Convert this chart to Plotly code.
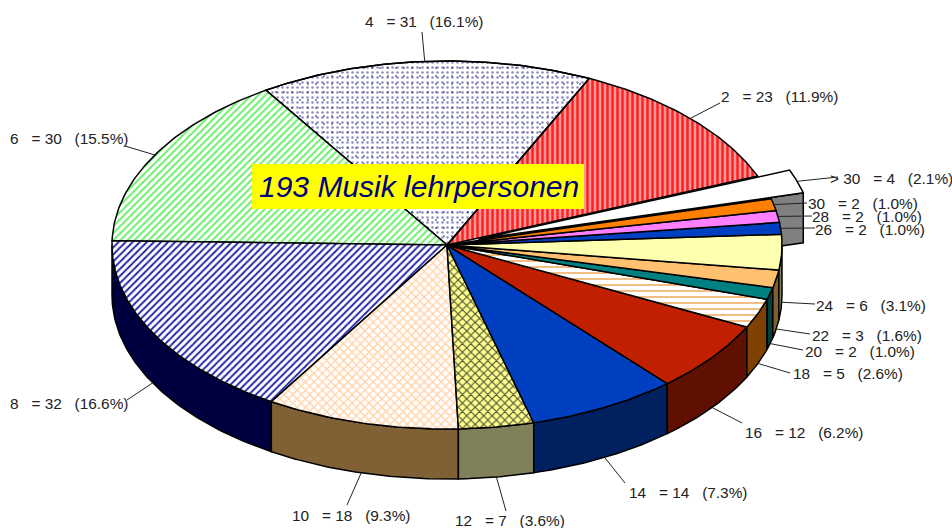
import math
import plotly.graph_objects as go

categories = ["2", "4", "6", "8", "10", "12", "14", "16", "18", "20", "22", "24", "26", "28", "30", "> 30"]
values = [23, 31, 30, 32, 18, 7, 14, 12, 5, 2, 3, 6, 2, 2, 2, 4]
title_text = "193 Musik lehrpersonen"

top_colors = ["#ff2020", "#8c8cc4", "#68f068", "#2828a8", "#ffd4a8", "#505030", "#0040c0", "#c02000",
              "#e88010", "#008080", "#ffc070", "#ffffb0", "#0040c0", "#ff80ff", "#ff8000", "#ffffff"]
top_bg = ["#ff9898", "#ffffff", "#ffffff", "#ffffff", "#ffffff", "#ffff90", None, None,
          "#ffffff", None, None, None, None, None, None, None]
top_shape = ["|", ".", "/", "/", "x", "x", "", "", "-", "", "", "", "", "", "", ""]
top_size = [5, 5, 5, 5, 6, 6, 0, 0, 6, 0, 0, 0, 0, 0, 0, 0]
top_solid = [0.5, 0.2, 0.4, 0.4, 0.4, 0.35, 0, 0, 0.17, 0, 0, 0, 0, 0, 0, 0]
side_colors = ["#800000", "#808080", "#208020", "#000040", "#806035", "#80805a", "#002060", "#601000",
               "#804000", "#004040", "#806030", "#808058", "#002060", "#804080", "#804000", "#808080"]

CX, CY, RX, RY, DEPTH = 447, 245, 335, 184, 50
START = 22.0
EXPLODE_IDX = 15
OFF = (32, -6)

# label anchor: left x, middle y
label_pos = [(719, 96), (363, 21), (8, 138), (8, 403), (290, 515), (453, 520), (627, 492), (743, 432),
             (791, 373), (803, 351), (810, 335), (814, 305), (813, 229), (810, 216), (806, 203), (828, 178)]
line_end = [(720, 103), (422, 32), (125, 146), (127, 400), (347, 505), (506, 511), (625, 483), (742, 423),
            (790, 373), (803, 350), (810, 334), (815, 304), (815, 228), (812, 216), (807, 203), (838, 177)]

total = sum(values)
ang = []
a = START
for v in values:
    ang.append((a, a + v / total * 360))
    a += v / total * 360

def pt(deg, ox=0, oy=0, dz=0):
    r = math.radians(deg)
    return CX + ox + RX * math.cos(r), CY + oy - RY * math.sin(r) + dz

def arc(a0, a1, **kw):
    n = max(2, int(abs(a1 - a0) * 1.5) + 2)
    return [pt(a0 + (a1 - a0) * i / (n - 1), **kw) for i in range(n)]

fig = go.Figure()
LINE = dict(color="#000000", width=1.5)

def poly(points, color, shape="", bg=None, size=0, sol=0, line=LINE):
    pts = list(points) + [points[0]]
    kw = {}
    if shape:
        kw["fillpattern"] = dict(shape=shape, fgcolor=color, bgcolor=bg, size=size, solidity=sol, fillmode="replace")
    fig.add_trace(go.Scatter(x=[p[0] for p in pts], y=[p[1] for p in pts], mode="lines", fill="toself",
                             fillcolor=(bg or color), line=line, hoverinfo="skip", showlegend=False, **kw))

# radial cut face of the exploded wedge
lo, hi = ang[EXPLODE_IDX]
p0 = (CX + OFF[0], CY + OFF[1])
p1 = pt(lo, OFF[0], OFF[1])
poly([p0, p1, (p1[0], p1[1] + DEPTH), (p0[0], p0[1] + DEPTH)], side_colors[EXPLODE_IDX])

# rims on the lower half
for i, (a0, a1) in enumerate(ang):
    for base in (180, 540):
        s0, s1 = max(a0, base), min(a1, base + 180)
        if s1 > s0:
            poly(arc(s0, s1) + arc(s1, s0, dz=DEPTH), side_colors[i])

# top faces
for i, (a0, a1) in enumerate(ang):
    if i == EXPLODE_IDX:
        continue
    poly([(CX, CY)] + arc(a0, a1), top_colors[i], top_shape[i], top_bg[i], top_size[i], top_solid[i])
    if i == 1:  # second, sparse layer of black dots on the slice "4"
        poly([(CX, CY)] + arc(a0, a1), "#000040", ".", "rgba(0,0,0,0)", 8, 0.03)
poly([p0] + arc(lo, hi, ox=OFF[0], oy=OFF[1]), top_colors[EXPLODE_IDX])

# connectors
for i, (a0, a1) in enumerate(ang):
    mid = (a0 + a1) / 2
    s = math.sin(math.radians(mid))
    if i == EXPLODE_IDX:
        start = pt(mid, OFF[0], OFF[1])
    else:
        start = pt(mid, dz=DEPTH if s < 0 else 0)
    e = line_end[i]
    fig.add_trace(go.Scatter(x=[start[0], e[0]], y=[start[1], e[1]], mode="lines",
                             line=dict(color="#222222", width=1), hoverinfo="skip", showlegend=False))

# labels
anns = []
for i, c in enumerate(categories):
    txt = f"{c}   = {values[i]}   ({values[i] / total * 100:.1f}%)"
    anns.append(dict(x=label_pos[i][0], y=label_pos[i][1], text=txt, showarrow=False, xanchor="left", yanchor="middle",
                     xref="x", yref="y", font=dict(family="Liberation Sans", size=15.4, color="#222222")))
anns.append(dict(x=419, y=186.5, text=f"<i>{title_text}</i>", showarrow=False, xanchor="center", yanchor="middle",
                 xref="x", yref="y", font=dict(family="Liberation Sans", size=30, color="#000080")))

fig.update_layout(
    width=952, height=528, autosize=False, margin=dict(l=0, r=0, t=0, b=0),
    paper_bgcolor="white", plot_bgcolor="white",
    xaxis=dict(range=[0, 952], visible=False, fixedrange=True),
    yaxis=dict(range=[528, 0], visible=False, fixedrange=True),
    annotations=anns,
    shapes=[dict(type="rect", xref="x", yref="y", x0=252, x1=584, y0=164, y1=209,
                 fillcolor="#ffff00", line=dict(width=0), layer="above")],
)
fig.write_html("out.html", config=dict(displayModeBar=False),
               post_script="document.body.style.margin='0';document.documentElement.style.overflow='hidden';")
